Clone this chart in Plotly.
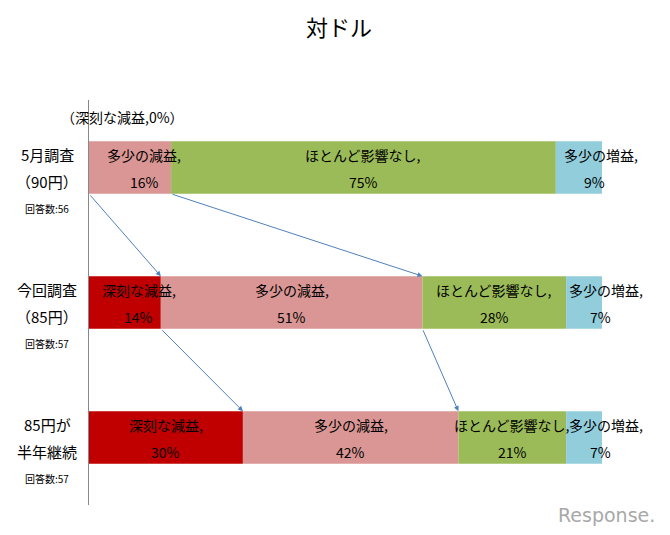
import numpy as np
import plotly.graph_objects as go

# -- data
rows_top = ["5月調査", "今回調査", "85円が"]
rows_bottom = ["（90円）", "（85円）", "半年継続"]
n_answers = [56, 57, 57]
series = ["深刻な減益", "多少の減益", "ほとんど影響なし", "多少の増益"]
serious_loss = [0, 14, 30]
slight_loss = [16, 51, 42]
no_effect = [75, 28, 21]
slight_gain = [9, 7, 7]

colors = ["#C00000", "#D99694", "#9BBB59", "#92CDDC"]
font = "Noto Sans CJK JP"

values = np.array([serious_loss, slight_loss, no_effect, slight_gain])
cum = np.vstack([np.zeros(3), np.cumsum(values, axis=0)])
ypos = np.arange(len(rows_top))
bw = 0.39

fig = go.Figure()
for k, name in enumerate(series):
    fig.add_trace(go.Bar(y=ypos, x=values[k], base=cum[k], orientation="h",
                         name=name, marker_color=colors[k], width=bw,
                         marker_line_width=0, showlegend=False))

annots = []
# segment labels (name on top line, percent below); narrow segments nudged right
for i in range(len(ypos)):
    for k, name in enumerate(series):
        v = values[k][i]
        if v == 0:
            continue
        xc = (cum[k][i] + cum[k + 1][i]) / 2
        shift = 0
        if v < 20:
            shift = 22 if k == 3 else 14
        annots.append(dict(x=xc, y=ypos[i], text=name + ",", showarrow=False,
                           yshift=13, xshift=shift, font=dict(size=14)))
        annots.append(dict(x=xc, y=ypos[i], text=f"{v}%", showarrow=False,
                           yshift=-14, xshift=min(shift, 16), font=dict(size=14)))

# zero entry above the first row
annots.append(dict(x=0, y=ypos[0], text="（深刻な減益,0%）", showarrow=False,
                   yshift=51, xshift=33, font=dict(size=14)))

# row labels on the left
lx = -42 / 513
for i in range(len(ypos)):
    annots.append(dict(x=lx, xref="paper", y=ypos[i], text=rows_top[i], showarrow=False,
                       xanchor="center", yshift=13, font=dict(size=15)))
    annots.append(dict(x=lx, xref="paper", y=ypos[i], text=rows_bottom[i], showarrow=False,
                       xanchor="center", yshift=-14, font=dict(size=15)))
    annots.append(dict(x=lx, xref="paper", y=ypos[i], text=f"回答数:{n_answers[i]}",
                       showarrow=False, xanchor="center", yshift=-41,
                       font=dict(size=10)))

# arrows following the boundaries from one row to the next
for i in range(len(ypos) - 1):
    for k in [1, 2]:
        annots.append(dict(x=cum[k][i + 1], y=ypos[i + 1] - bw / 2,
                           ax=cum[k][i], ay=ypos[i] + bw / 2,
                           xref="x", yref="y", axref="x", ayref="y",
                           showarrow=True, arrowhead=2, arrowsize=1,
                           arrowwidth=1, arrowcolor="#4F81BD", text=""))

# watermark
annots.append(dict(x=568 / 513, y=-10 / 405, xref="paper", yref="paper", text="Response.",
                   showarrow=False, xanchor="right", yanchor="middle",
                   font=dict(size=19, color="#A8A8A8", family="DejaVu Sans")))

fig.update_layout(
    width=662, height=527,
    margin=dict(l=81, r=68, t=92, b=30),
    paper_bgcolor="white", plot_bgcolor="white",
    barmode="overlay",
    font=dict(family=font, color="black"),
    title=dict(text="対ドル", x=0.5, xanchor="center", y=1 - 20 / 527,
               yanchor="middle", font=dict(size=22, color="black")),
    annotations=annots,
)
fig.update_xaxes(range=[0, 100], visible=False)
fig.update_yaxes(range=[2.5, -0.5], showticklabels=False, showgrid=False,
                 zeroline=False, showline=True, linecolor="#888888", linewidth=1,
                 ticks="")

fig.write_html("out.html")
